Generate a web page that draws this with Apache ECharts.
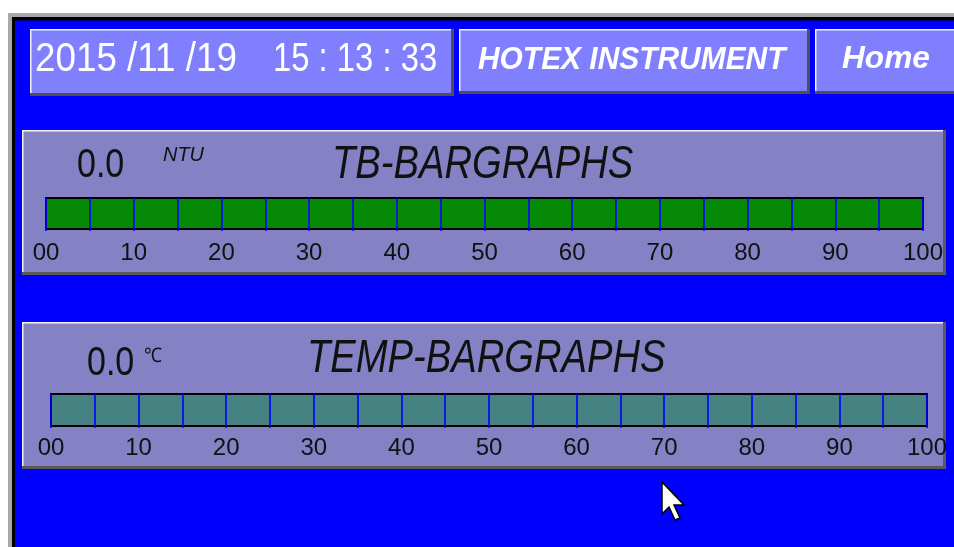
<!DOCTYPE html>
<html>
<head>
<meta charset="utf-8">
<title>TB / TEMP bargraphs</title>
<script src="https://cdn.jsdelivr.net/npm/echarts@6/dist/echarts.min.js"></script>
<style>
  html, body { margin: 0; padding: 0; background: #fff; }
  #main { width: 954px; height: 547px; }
</style>
</head>
<body>
<div id="main"></div>
<script>
// 棒图数据
const barNames = ['TB-BARGRAPHS', 'TEMP-BARGRAPHS']
const barUnits = ['NTU', '℃']
const barValues = [0.0, 0.0] // 当前读数
const barColors = ['#068a06', '#468282']
const tickLabels = ['00', '10', '20', '30', '40', '50', '60', '70', '80', '90', '100']
const scaleMin = 0
const scaleMax = 100
const tickStep = 5
const labelStep = 10
const dateText = '2015 /11 /19'
const timeText = '15 : 13 : 33'
const headerTexts = ['HOTEX INSTRUMENT', 'Home']

const FONT = '"Liberation Sans", Arial, sans-serif'

// 两个棒图的位置
const grids = [
  { left: 46, top: 198, width: 877, height: 31, labelMargin: 10 },
  { left: 51, top: 394, width: 876, height: 32, labelMargin: 8 }
]

// 凸起的按钮 / 面板
function raised (x, y, w, h, face, shadow) {
  return [
    { type: 'rect', shape: { x: x, y: y, width: w, height: h }, style: { fill: shadow } },
    { type: 'rect', shape: { x: x, y: y, width: w - 3, height: h - 3 }, style: { fill: '#f4f4f4' } },
    { type: 'rect', shape: { x: x + 1.5, y: y + 1.5, width: w - 4.5, height: h - 4.5 }, style: { fill: face } }
  ]
}

function txt (x, y, text, font, fill, sx) {
  return {
    type: 'text', x: x, y: y, scaleX: sx || 1, z: 20,
    style: {
      text: text, font: font, fill: fill,
      textAlign: 'left', textVerticalAlign: 'middle', align: 'left', verticalAlign: 'middle'
    }
  }
}

let graphics = [
  // 外框
  { type: 'rect', shape: { x: 8, y: 13, width: 960, height: 560 }, style: { fill: '#a8a8a8' } },
  { type: 'rect', shape: { x: 12, y: 17, width: 960, height: 560 }, style: { fill: '#000' } },
  { type: 'rect', shape: { x: 15, y: 20.5, width: 960, height: 560 }, style: { fill: '#0000ff' } }
]
graphics = graphics
  .concat(raised(30, 29, 424, 67, '#8080ff', '#505050'))
  .concat(raised(459, 29, 351, 65, '#8080ff', '#505050'))
  .concat(raised(815, 29, 160, 65, '#8080ff', '#505050'))
  .concat(raised(22, 130, 924, 145, '#8482c4', '#5a5a5a'))
  .concat(raised(22, 322, 924, 147, '#8482c4', '#5a5a5a'))

graphics.push(
  txt(35, 60, dateText, '40px ' + FONT, '#fff', 0.92),
  txt(273, 60, timeText, '40px ' + FONT, '#fff', 0.82),
  txt(478, 60, headerTexts[0], 'italic bold 31px ' + FONT, '#fff', 0.965),
  txt(842, 59, headerTexts[1], 'italic bold 31px ' + FONT, '#fff', 1.02),
  // 面板1
  txt(77, 166, barValues[0].toFixed(1), '40px ' + FONT, '#111', 0.85),
  txt(163, 155, barUnits[0], 'italic 21px ' + FONT, '#111', 0.95),
  txt(332, 165, barNames[0], 'italic 46px ' + FONT, '#111', 0.83),
  // 面板2
  txt(87, 364, barValues[1].toFixed(1), '40px ' + FONT, '#111', 0.85),
  txt(144, 356, barUnits[1], '20px ' + FONT, '#111', 0.9),
  txt(307, 359, barNames[1], 'italic 46px ' + FONT, '#111', 0.83),
  // 鼠标指针
  {
    type: 'polygon', x: 662, y: 482, z: 30,
    shape: { points: [[0, 0], [0, 32], [7, 25], [13, 38], [18, 36], [12, 23], [22, 23]] },
    style: { fill: '#fff', stroke: '#000', lineWidth: 1.5 }
  }
)

const chartInstance = echarts.init(document.getElementById('main'))

const option = {
  animation: false,
  backgroundColor: '#fff',
  graphic: { elements: graphics },
  grid: grids.map(g => ({ left: g.left, top: g.top, width: g.width, height: g.height, containLabel: false })),
  xAxis: grids.map((g, i) => ({
    gridIndex: i,
    type: 'value',
    min: scaleMin,
    max: scaleMax,
    interval: tickStep,
    position: 'bottom',
    offset: 2,
    z: 10,
    axisLine: { show: false },
    axisTick: {
      show: true,
      inside: true,
      length: g.height + 2,
      lineStyle: { color: '#0000ff', width: 1.6 }
    },
    axisLabel: {
      margin: g.labelMargin,
      color: '#111',
      fontSize: 24,
      fontFamily: FONT,
      formatter: v => (v % labelStep === 0 ? tickLabels[v / labelStep] : '')
    },
    splitLine: { show: false }
  })),
  yAxis: grids.map((g, i) => ({
    gridIndex: i,
    type: 'category',
    data: [barNames[i]],
    show: false
  })),
  series: grids.map((g, i) => ({
    type: 'bar',
    name: barNames[i],
    xAxisIndex: i,
    yAxisIndex: i,
    data: [barValues[i]],
    barWidth: '100%',
    silent: true,
    itemStyle: { color: '#ffff00' },
    showBackground: true,
    backgroundStyle: { color: barColors[i], borderColor: '#000', borderWidth: 2 }
  }))
}

chartInstance.setOption(option)
</script>
</body>
</html>
